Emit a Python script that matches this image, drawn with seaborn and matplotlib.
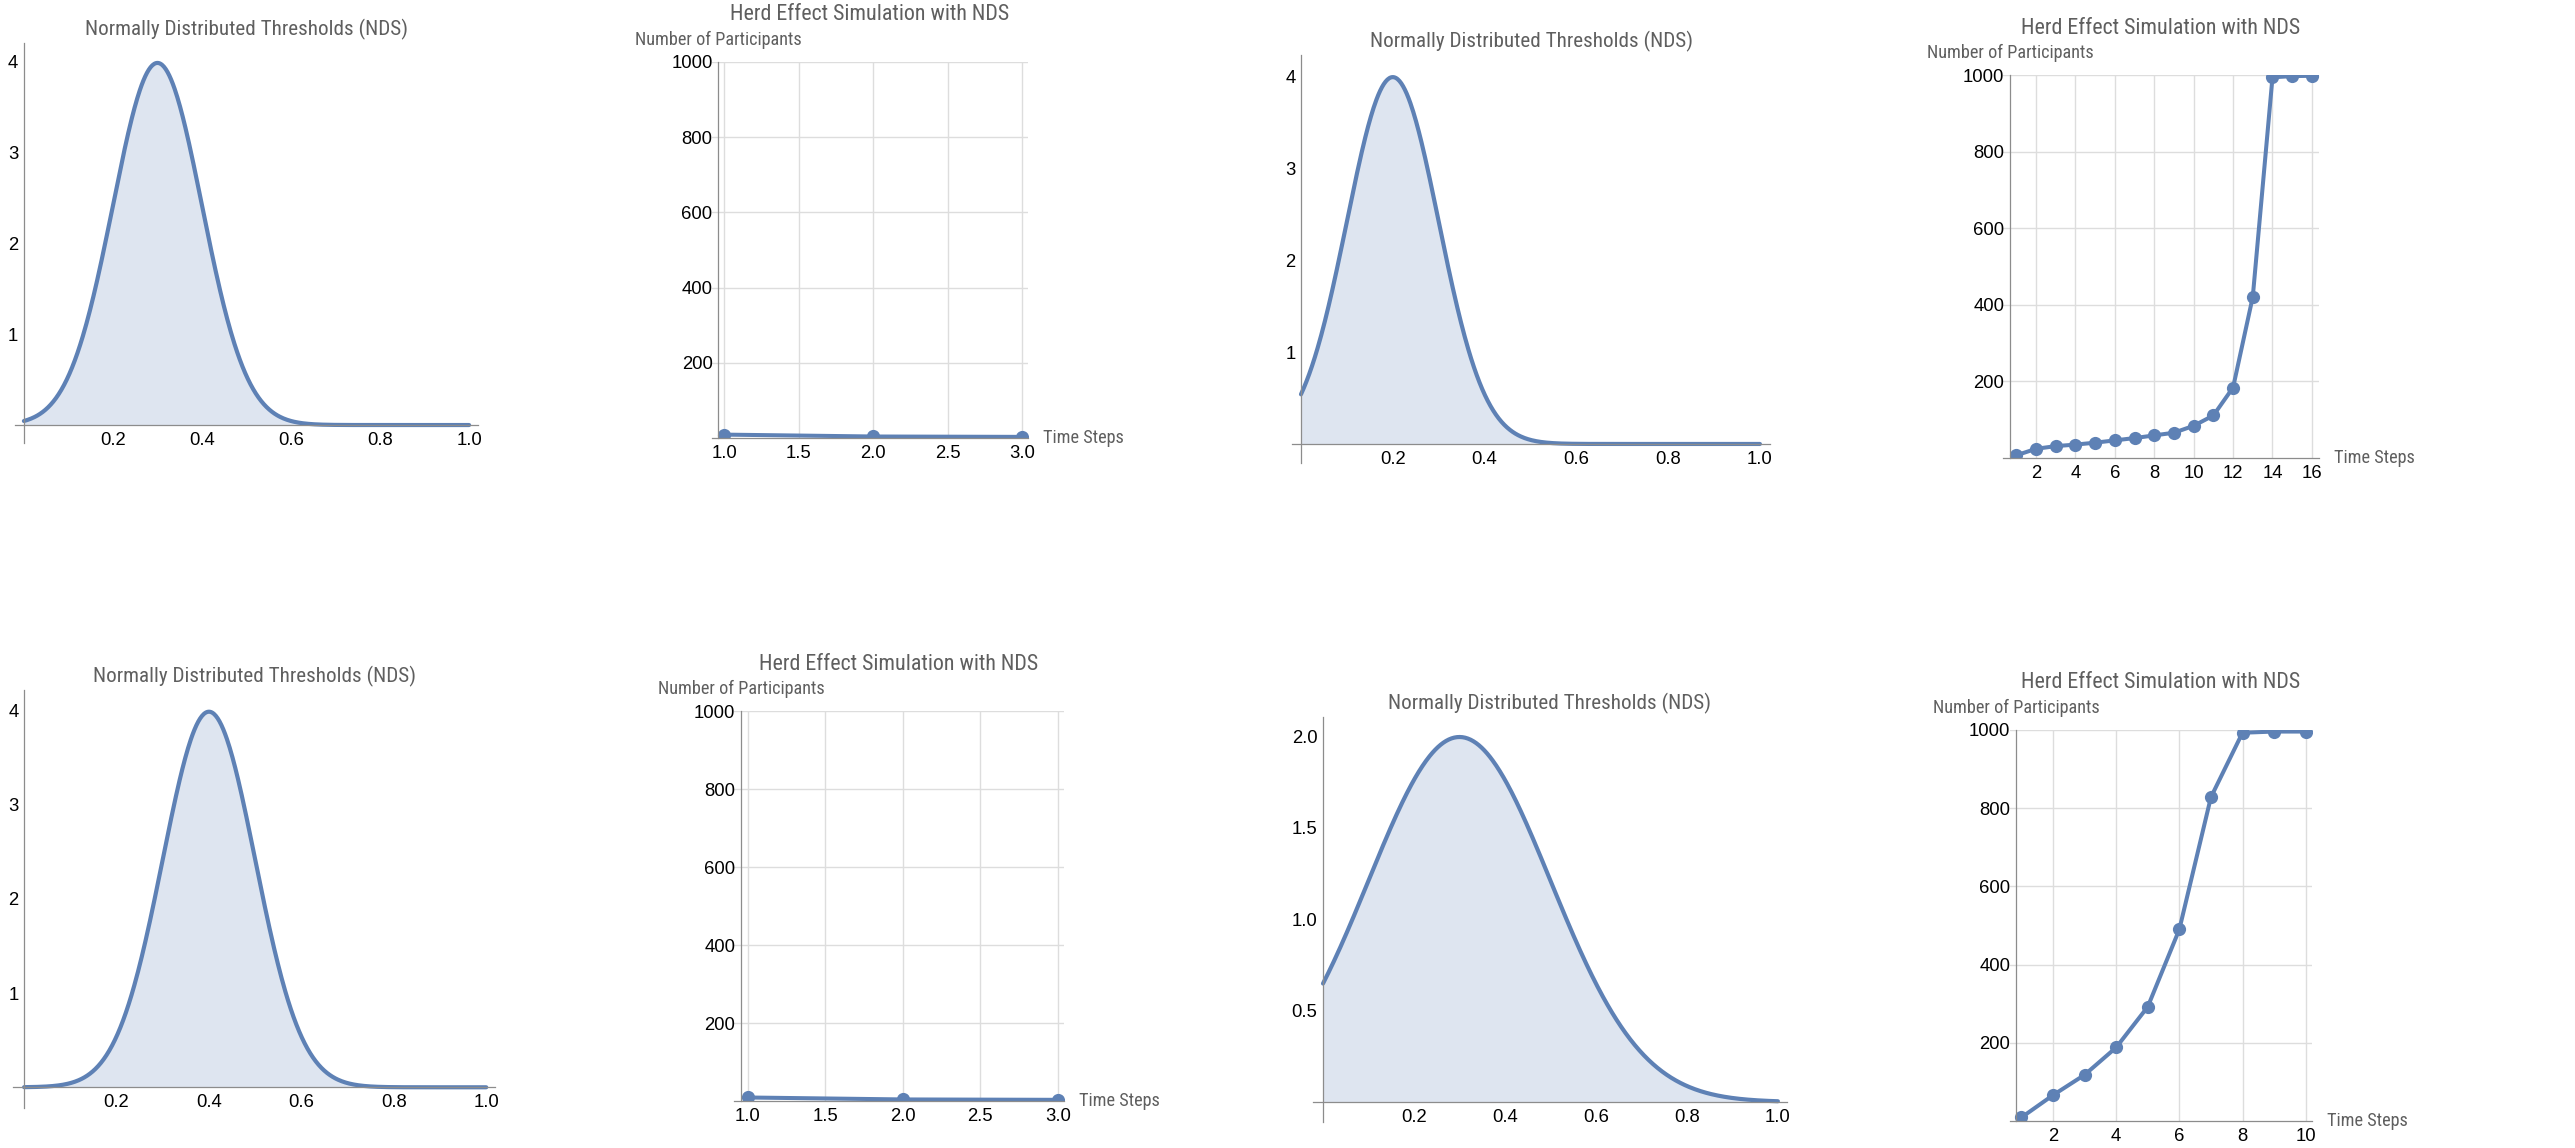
import numpy as np
import pandas as pd
import matplotlib
matplotlib.use("Agg")
import matplotlib.pyplot as plt
import seaborn as sns
from matplotlib import font_manager
from matplotlib.ticker import FixedLocator, FormatStrFormatter
from matplotlib.transforms import offset_copy, blended_transform_factory

# ---------------- data ----------------
NDS_TITLE = "Normally Distributed Thresholds (NDS)"
HERD_TITLE = "Herd Effect Simulation with NDS"
HERD_YLABEL = "Number of Participants"
HERD_XLABEL = "Time Steps"

# threshold distributions (mean, standard deviation) of the four NDS panels
nds_means = [0.3, 0.2, 0.4, 0.3]
nds_sds = [0.1, 0.1, 0.1, 0.2]

# herd simulations
herd_a_steps = [1, 2, 3]
herd_a_counts = [9, 4, 3]
herd_b_steps = [1, 2, 3, 4, 5, 6, 7, 8, 9, 10, 11, 12, 13, 14, 15, 16]
herd_b_counts = [7, 24, 31, 35, 40, 46, 52, 59, 66, 84, 111, 184, 421, 994, 997, 998]
herd_c_steps = [1, 2, 3]
herd_c_counts = [9, 4, 3]
herd_d_steps = [1, 2, 3, 4, 5, 6, 7, 8, 9, 10]
herd_d_counts = [9, 66, 118, 188, 292, 490, 828, 993, 996, 996]

# ---------------- style ----------------
sns.set_theme(style="white")
names = {f.name for f in font_manager.fontManager.ttflist}
LABEL_FONT = "Liberation Sans"
for cand in ["Liberation Sans Narrow", "Roboto Condensed", "Noto Sans Condensed",
             "DejaVu Sans Condensed", "Open Sans Condensed"]:
    if cand in names:
        LABEL_FONT = cand
        break
plt.rcParams["font.family"] = ["Liberation Sans", "DejaVu Sans"]

BLUE = "#5E81B5"
AXIS_GRAY = "#8c8c8c"
TEXT_GRAY = "#5f5f5f"
GRID = "#dddddd"
TICK_SIZE = 13.3

W, H = 2575, 1148
fig = plt.figure(figsize=(W / 100, H / 100), dpi=100)
fig.patch.set_facecolor("white")
renderer = fig.canvas.get_renderer()


def fit_size(text, target_px, max_size):
    t = fig.text(0, 0, text, fontsize=20, family=LABEL_FONT)
    w = t.get_window_extent(renderer).width
    t.remove()
    return min(max_size, 20 * target_px / w)


NDS_TITLE_SIZE = fit_size(NDS_TITLE, 323, 17)
HERD_TITLE_SIZE = fit_size(HERD_TITLE, 280, 17)
YLABEL_SIZE = fit_size(HERD_YLABEL, 167, 14)
XLABEL_SIZE = fit_size(HERD_XLABEL, 81, 14)


def add_axes_px(l, t, r, b):
    return fig.add_axes([l / W, 1 - b / H, (r - l) / W, (b - t) / H])


def style_axes(ax):
    ax.set_facecolor("white")
    for s in ["top", "right"]:
        ax.spines[s].set_visible(False)
    for s in ["left", "bottom"]:
        ax.spines[s].set_color(AXIS_GRAY)
        ax.spines[s].set_linewidth(0.9)
    ax.tick_params(which="both", direction="in", color=AXIS_GRAY, width=0.8,
                   labelsize=TICK_SIZE, labelcolor="black")
    ax.tick_params(which="major", length=4.5)
    ax.tick_params(which="minor", length=2.5)
    ax.tick_params(axis="x", which="both", pad=5)
    ax.tick_params(axis="y", which="both", pad=4)
    ax.set_xlabel("")
    ax.set_ylabel("")


# NDS panels: box (l, t, r, b) px, xlim, ylim, y major step, y minor step, fmt
nds_layout = [
    ((15, 43, 478, 443), (-0.020, 1.020), (-0.198, 4.209), 1.0, 0.2, "%d"),
    ((1292, 55, 1770, 463), (-0.0196, 1.022), (-0.207, 4.23), 1.0, 0.2, "%d"),
    ((13, 690, 495, 1108), (-0.024, 1.019), (-0.22, 4.22), 1.0, 0.2, "%d"),
    ((1313, 717, 1787, 1122), (-0.022, 1.020), (-0.109, 2.104), 0.5, 0.1, "%.1f"),
]

xs = np.linspace(0, 1, 500)
for i, (box, xl, yl, ymaj, ymin, fmt) in enumerate(nds_layout):
    ax = add_axes_px(*box)
    mu, sd = nds_means[i], nds_sds[i]
    pdf = np.exp(-0.5 * ((xs - mu) / sd) ** 2) / (sd * np.sqrt(2 * np.pi))
    df = pd.DataFrame({"x": xs, "density": pdf})
    ax.fill_between(df["x"], 0, df["density"], color=BLUE, alpha=0.2, lw=0)
    sns.lineplot(data=df, x="x", y="density", ax=ax, color=BLUE, lw=3.0)
    ax.set_xlim(*xl)
    ax.set_ylim(*yl)
    style_axes(ax)
    ax.spines["left"].set_position(("data", 0))
    ax.spines["bottom"].set_position(("data", 0))
    ax.xaxis.set_major_locator(FixedLocator(np.arange(0.2, 1.01, 0.2)))
    ax.xaxis.set_minor_locator(FixedLocator(np.arange(0.05, 1.01, 0.05)))
    ax.xaxis.set_major_formatter(FormatStrFormatter("%.1f"))
    ax.yaxis.set_major_locator(FixedLocator(np.arange(ymaj, yl[1] + 1e-6, ymaj)))
    ax.yaxis.set_minor_locator(FixedLocator(np.arange(ymin, yl[1] + 1e-6, ymin)))
    ax.yaxis.set_major_formatter(FormatStrFormatter(fmt))
    ax.text(0.5, 1.0, NDS_TITLE, transform=offset_copy(ax.transAxes, fig=fig, y=14, units="dots"),
            ha="center", va="center", fontsize=NDS_TITLE_SIZE, color=TEXT_GRAY, family=LABEL_FONT)

# Herd panels: box, xlim, y-axis position, x major, x minor, fmt
herd_layout = [
    ((712, 62, 1028, 438), (0.919, 3.04), 0.96, 0.5, 0.1, "%.1f", herd_a_steps, herd_a_counts),
    ((2003, 75, 2319, 458), (0.325, 16.36), 0.68, 2, 0.5, "%d", herd_b_steps, herd_b_counts),
    ((734, 711, 1064, 1101), (0.91, 3.04), 0.955, 0.5, 0.1, "%.1f", herd_c_steps, herd_c_counts),
    ((2010, 730, 2312, 1121), (0.64, 10.2), 0.83, 2, 0.5, "%d", herd_d_steps, herd_d_counts),
]

for box, xl, yax, xmaj, xmin, fmt, steps, counts in herd_layout:
    ax = add_axes_px(*box)
    df = pd.DataFrame({"step": steps, "count": counts})
    sns.lineplot(data=df, x="step", y="count", ax=ax, color=BLUE, lw=2.9,
                 marker="o", markersize=9.5, markeredgewidth=0, markerfacecolor=BLUE)
    ax.set_xlim(*xl)
    ax.set_ylim(0, 1000)
    style_axes(ax)
    ax.spines["left"].set_position(("data", yax))
    first = steps[0]
    last = steps[-1]
    maj = np.arange(np.ceil(first / xmaj) * xmaj, last + 1e-6, xmaj)
    ax.xaxis.set_major_locator(FixedLocator(maj))
    ax.xaxis.set_minor_locator(FixedLocator(np.arange(first, last + 1e-6, xmin)))
    ax.xaxis.set_major_formatter(FormatStrFormatter(fmt))
    ax.yaxis.set_major_locator(FixedLocator(np.arange(200, 1001, 200)))
    ax.yaxis.set_minor_locator(FixedLocator(np.arange(50, 1000, 50)))
    ax.grid(True, which="major", color=GRID, lw=1.0)
    ax.set_axisbelow(True)
    ax.text(0.5, 1.0, HERD_TITLE, transform=offset_copy(ax.transAxes, fig=fig, y=47, units="dots"),
            ha="center", va="center", fontsize=HERD_TITLE_SIZE, color=TEXT_GRAY, family=LABEL_FONT)
    bt = blended_transform_factory(ax.transData, ax.transAxes)
    ax.text(yax, 1.0, HERD_YLABEL, transform=offset_copy(bt, fig=fig, y=22, units="dots"),
            ha="center", va="center", fontsize=YLABEL_SIZE, color=TEXT_GRAY, family=LABEL_FONT)
    ax.text(1.0, 0.0, HERD_XLABEL, transform=offset_copy(ax.transAxes, fig=fig, x=15, units="dots"),
            ha="left", va="center", fontsize=XLABEL_SIZE, color=TEXT_GRAY, family=LABEL_FONT)

fig.savefig("out.png", dpi=100, facecolor="white")
